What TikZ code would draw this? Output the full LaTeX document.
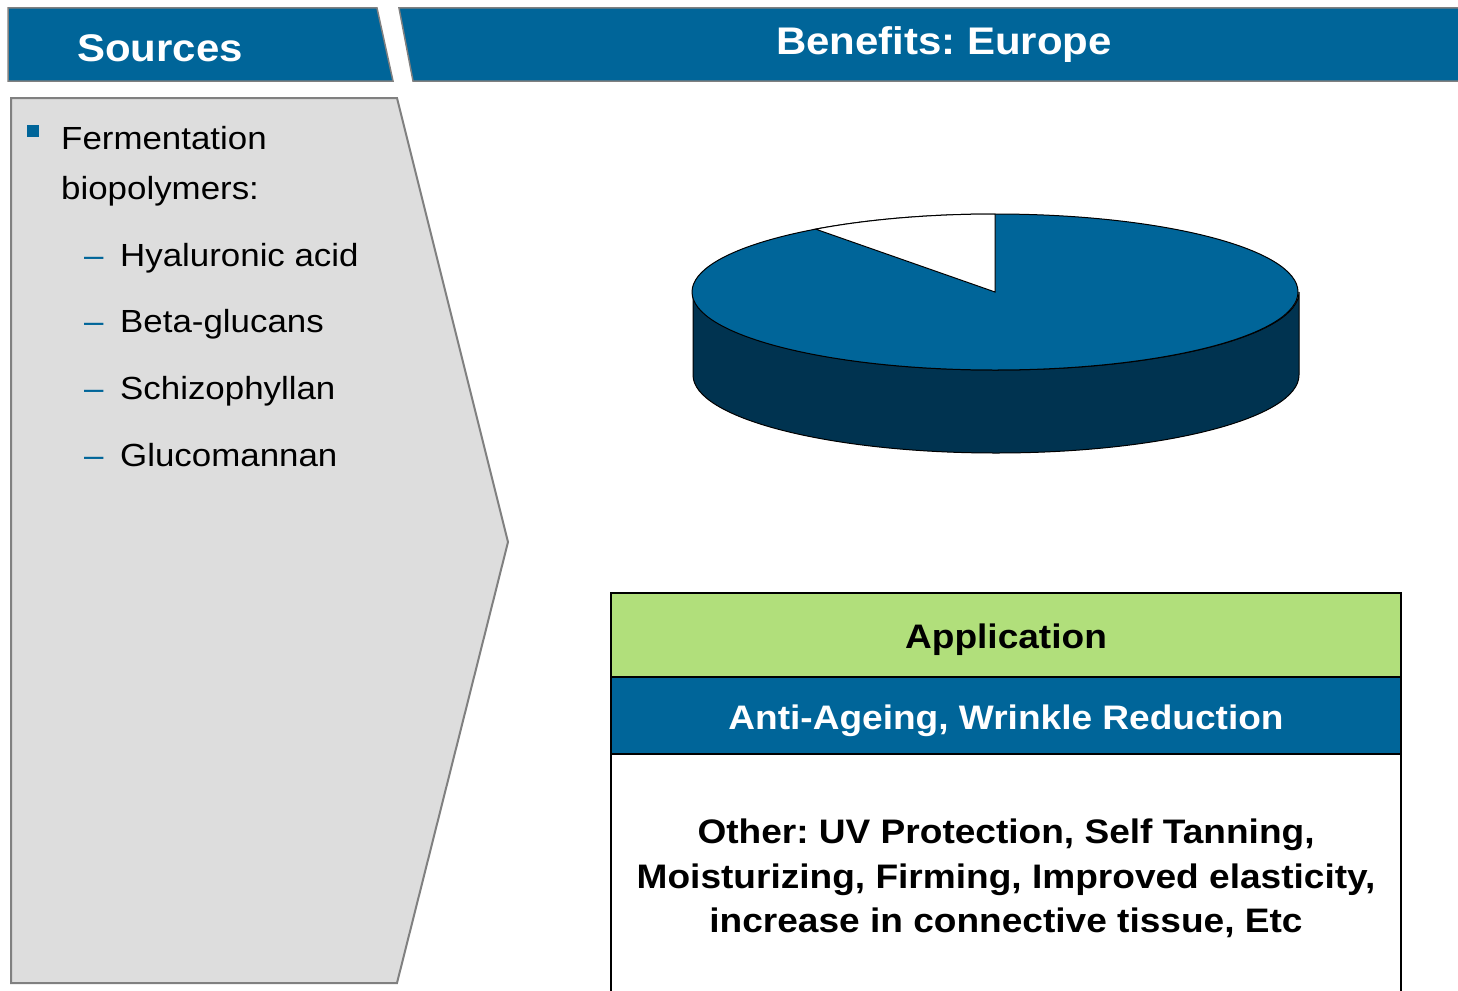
\documentclass[tikz,border=0pt]{standalone}
\usepackage{fontspec}
\setmainfont{Liberation Sans}[FakeStretch=1.09]
\frenchspacing
\definecolor{hdrblue}{HTML}{006599}
\definecolor{piedark}{HTML}{003350}
\definecolor{appgreen}{HTML}{B1DF7B}
\definecolor{panelgray}{HTML}{DDDDDD}
\definecolor{edgegray}{HTML}{808080}
\tikzset{
  hdrshape/.style={fill=hdrblue,draw=edgegray,line width=1.5pt},
  hdrtext/.style={text=white,font=\fontsize{38.5pt}{46pt}\selectfont\bfseries\frenchspacing,inner sep=0pt,anchor=base},
  listtext/.style={font=\fontsize{32pt}{40pt}\selectfont,inner sep=0pt,anchor=base west},
  dashmark/.style={text=hdrblue,font=\fontsize{32pt}{40pt}\selectfont,inner sep=0pt,anchor=base west},
  tabtext/.style={font=\fontsize{34pt}{42pt}\selectfont\bfseries\frenchspacing,inner sep=0pt,anchor=base},
}
\begin{document}
\begin{tikzpicture}[x=1pt,y=1pt]
\useasboundingbox (0,0) rectangle (1458,-990);
% headers
\draw[hdrshape] (8,-8) -- (377,-8) -- (393,-81) -- (8,-81) -- cycle;
\draw[hdrshape] (399,-8) -- (1470,-8) -- (1470,-81) -- (413,-81) -- cycle;
\node[hdrtext] (srctitle) at (160,-61) {Sources};
\node[hdrtext] (bentitle) at (944,-55) {Benefits: Europe};
% left panel
\draw[fill=panelgray,draw=edgegray,line width=2pt] (11,-98) -- (397,-98) -- (508,-542) -- (397,-983) -- (11,-983) -- cycle;
\fill[hdrblue] (27,-125) rectangle (39,-137);
\node[listtext] (ferm) at (61,-149) {Fermentation};
\node[listtext] (biop) at (61,-199) {biopolymers:};
\node[dashmark] (d1) at (84,-266) {–};
\node[dashmark] (d2) at (84,-332) {–};
\node[dashmark] (d3) at (84,-399) {–};
\node[dashmark] (d4) at (84,-466) {–};
\node[listtext] (it1) at (120,-266) {Hyaluronic acid};
\node[listtext] (it2) at (120,-332) {Beta-glucans};
\node[listtext] (it3) at (120,-399) {Schizophyllan};
\node[listtext] (it4) at (120,-466) {Glucomannan};
% pie
\draw[fill=piedark,draw=black,line width=1pt] (693,-292) -- (693,-375)
  arc[start angle=180,end angle=360,x radius=303pt,y radius=78pt] -- (1299,-292)
  arc[start angle=0,end angle=-180,x radius=303pt,y radius=78pt] -- cycle;
\draw[fill=hdrblue,draw=black,line width=1pt] (995,-292) ellipse[x radius=303pt,y radius=78pt];
\draw[fill=white,draw=black,line width=1pt] (995,-292) -- (995,-214)
  arc[start angle=90,end angle=126.3,x radius=303pt,y radius=78pt] -- cycle;
% table
\fill[appgreen] (611,-593) rectangle (1401,-677);
\fill[hdrblue] (611,-677) rectangle (1401,-754);
\fill[white] (611,-754) rectangle (1401,-1000);
\draw[black,line width=2pt] (611,-1000) -- (611,-593) -- (1401,-593) -- (1401,-1000);
\draw[black,line width=2.5pt] (611,-677) -- (1401,-677);
\draw[black,line width=2.5pt] (611,-754) -- (1401,-754);
\node[tabtext] (app) at (1006,-648) {Application};
\node[tabtext,text=white] (anti) at (1006,-729) {Anti-Ageing, Wrinkle Reduction};
\node[tabtext] (oth1) at (1006,-843) {Other: UV Protection, Self Tanning,};
\node[tabtext] (oth2) at (1006,-888) {Moisturizing, Firming, Improved elasticity,};
\node[tabtext] (oth3) at (1006,-932) {increase in connective tissue, Etc};
\end{tikzpicture}
\end{document}
